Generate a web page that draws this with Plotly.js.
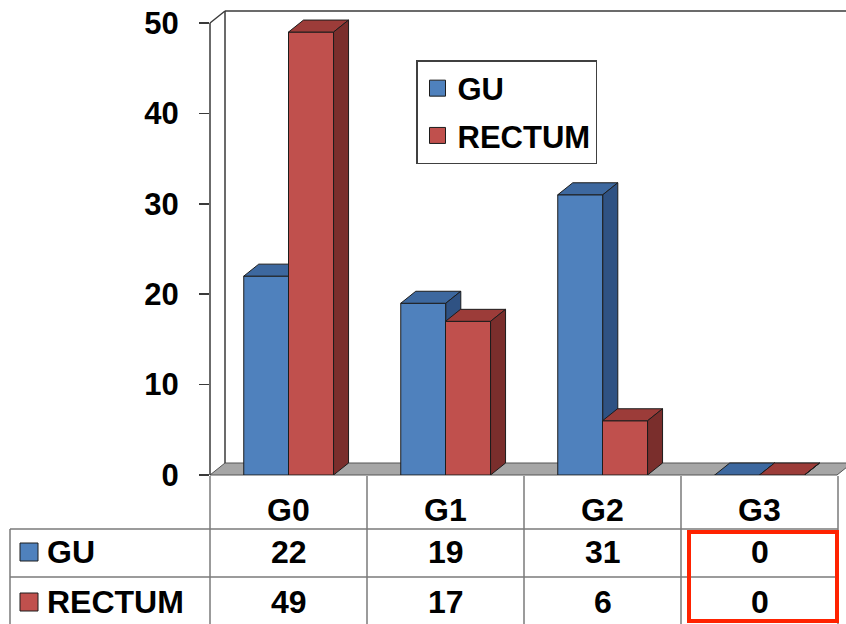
<!DOCTYPE html>
<html>
<head>
<meta charset="utf-8">
<script src="https://cdn.plot.ly/plotly-3.0.1.min.js"></script>
<style>html,body{margin:0;padding:0;background:#fff;}#chart{width:846px;height:624px;}</style>
</head>
<body>
<div id="chart"></div>
<script>
// ---- data ----
const categories = ['G0', 'G1', 'G2', 'G3'];
const seriesNames = ['GU', 'RECTUM'];
const guValues = [22, 19, 31, 0];
const rectumValues = [49, 17, 6, 0];
const yTickValues = [0, 10, 20, 30, 40, 50];

// ---- styles / geometry ----
const W = 846, H = 624;
const M = {l: 210, r: 8, t: 11, b: 149};
const PW = W - M.l - M.r, PH = H - M.t - M.b;
const YMAX = 51.33;
const XMIN = -0.5, XMAX = 3.5;
const DX = 15 * (XMAX - XMIN) / PW;   // depth in x units
const DY = 12 * YMAX / PH;            // depth in y units
const BAR_W = 0.287;
const OFFSETS = [-0.285, 0.0];
const FONT = 'Liberation Sans, Arial, Helvetica, sans-serif';
const EDGE = '#1c1c1c';
const colors = [
  {front: '#4F81BD', top: '#3D689F', side: '#2F5283'},
  {front: '#C0504D', top: '#9C3C39', side: '#7A2E2C'}
];
const px = v => (v - M.l) / PW;          // pixel x -> paper
const py = v => (M.t + PH - v) / PH;     // pixel y -> paper

const allValues = [guValues, rectumValues];
const xIdx = categories.map((c, i) => i);

const traces = [];
allValues.forEach((vals, s) => {
  const xa = s === 0 ? 'x' : 'x2', ya = s === 0 ? 'y' : 'y2';
  const c = colors[s];
  traces.push({
    type: 'bar', x: xIdx, y: vals, width: BAR_W, offset: OFFSETS[s],
    xaxis: xa, yaxis: ya, showlegend: false, hoverinfo: 'skip',
    marker: {color: c.front, line: {color: EDGE, width: 1}}
  });
  const tx = [], ty = [], sx = [], sy = [];
  vals.forEach((h, i) => {
    const x0 = i + OFFSETS[s], x1 = x0 + BAR_W;
    tx.push(x0, x1, x1 + DX, x0 + DX, x0, null);
    ty.push(h, h, h + DY, h + DY, h, null);
    sx.push(x1, x1 + DX, x1 + DX, x1, x1, null);
    sy.push(0, DY, h + DY, h, 0, null);
  });
  traces.push({type: 'scatter', mode: 'lines', x: tx, y: ty, xaxis: xa, yaxis: ya,
    fill: 'toself', fillcolor: c.top, line: {color: EDGE, width: 1},
    showlegend: false, hoverinfo: 'skip'});
  traces.push({type: 'scatter', mode: 'lines', x: sx, y: sy, xaxis: xa, yaxis: ya,
    fill: 'toself', fillcolor: c.side, line: {color: EDGE, width: 1},
    showlegend: false, hoverinfo: 'skip'});
});
// legend entries
seriesNames.forEach((n, s) => {
  traces.push({type: 'scatter', mode: 'markers', x: [null], y: [null], name: n,
    legendgroup: n, marker: {symbol: 'square', size: 16, color: colors[s].front,
    line: {color: EDGE, width: 1}}, hoverinfo: 'skip'});
});

// ---- decorative shapes ----
const shapes = [];
const line = (x0, y0, x1, y1, color, width, layer) => shapes.push({type: 'line', xref: 'paper', yref: 'paper',
  x0: px(x0), y0: py(y0), x1: px(x1), y1: py(y1), line: {color: color, width: width}, layer: layer || 'below'});
// floor
shapes.push({type: 'path', xref: 'paper', yref: 'paper', layer: 'below',
  path: `M${px(210)},${py(475)} L${px(837)},${py(475)} L${px(852)},${py(463)} L${px(225)},${py(463)} Z`,
  fillcolor: '#A6A6A6', line: {color: '#555', width: 1}});
// walls
const WALL = '#3a3a3a';
line(225, 11, 850, 11, WALL, 1.5);
line(225, 11, 225, 463, WALL, 1.5);
line(210, 23, 225, 11, WALL, 1.5);
line(210, 23, 210, 475, WALL, 1.5);

// table grid
const GRID = '#7a7a7a';
line(10, 529, 838, 529, GRID, 1.5, 'above');
line(10, 577, 838, 577, GRID, 1.5, 'above');
line(10, 529, 10, 624, GRID, 1.5, 'above');
[210, 367, 524, 681, 838].forEach(x => line(x, 476, x, 624, GRID, 1.5, 'above'));
// highlight box
shapes.push({type: 'rect', xref: 'paper', yref: 'paper', layer: 'above',
  x0: px(689), x1: px(837), y0: py(532), y1: py(621),
  line: {color: '#FF2200', width: 4}, fillcolor: 'rgba(0,0,0,0)'});
// row key squares
const keyY = [552, 602];
seriesNames.forEach((n, s) => {
  shapes.push({type: 'rect', xref: 'paper', yref: 'paper', layer: 'above',
    x0: px(20), x1: px(38), y0: py(keyY[s] - 9), y1: py(keyY[s] + 9),
    fillcolor: colors[s].front, line: {color: EDGE, width: 1}});
});

// ---- table text ----
const tfont = {family: FONT, size: 32, color: '#000', weight: 'bold'};
const annotations = [];
categories.forEach((c, i) => {
  annotations.push({xref: 'x', yref: 'paper', x: i, y: py(510), text: c, showarrow: false,
    font: tfont, xanchor: 'center', yanchor: 'middle'});
});
allValues.forEach((vals, s) => {
  vals.forEach((v, i) => {
    annotations.push({xref: 'x', yref: 'paper', x: i, y: py(keyY[s]), text: String(v), showarrow: false,
      font: tfont, xanchor: 'center', yanchor: 'middle'});
  });
  annotations.push({xref: 'paper', yref: 'paper', x: px(45), y: py(keyY[s]), text: seriesNames[s],
    showarrow: false, font: tfont, xanchor: 'left', yanchor: 'middle'});
});

const hiddenX = {range: [XMIN, XMAX], visible: false, showgrid: false, zeroline: false, fixedrange: true};
const layout = {
  width: W, height: H,
  margin: M,
  paper_bgcolor: '#fff', plot_bgcolor: 'rgba(0,0,0,0)',
  barmode: 'overlay',
  showlegend: true,
  legend: {x: px(416), y: py(60), xanchor: 'left', yanchor: 'top',
    bgcolor: '#fff', bordercolor: '#404040', borderwidth: 1.5,
    font: {family: FONT, size: 31, color: '#000', weight: 'bold'},
    traceorder: 'grouped', tracegroupgap: 4, itemwidth: 30},
  xaxis: hiddenX,
  xaxis2: Object.assign({}, hiddenX, {overlaying: 'x'}),
  yaxis: {range: [0, YMAX], showgrid: false, zeroline: false, showline: false,
    tickmode: 'array', tickvals: yTickValues, ticktext: yTickValues.map(String),
    ticks: 'outside', ticklen: 10, tickwidth: 1.5, tickcolor: '#3a3a3a',
    ticklabelstandoff: 14,
    tickfont: {family: FONT, size: 31, color: '#000', weight: 'bold'}, fixedrange: true},
  yaxis2: {range: [0, YMAX], overlaying: 'y', visible: false, showgrid: false, zeroline: false, fixedrange: true},
  shapes: shapes,
  annotations: annotations
};
Plotly.newPlot('chart', traces, layout, {staticPlot: true, displayModeBar: false});
</script>
</body>
</html>
